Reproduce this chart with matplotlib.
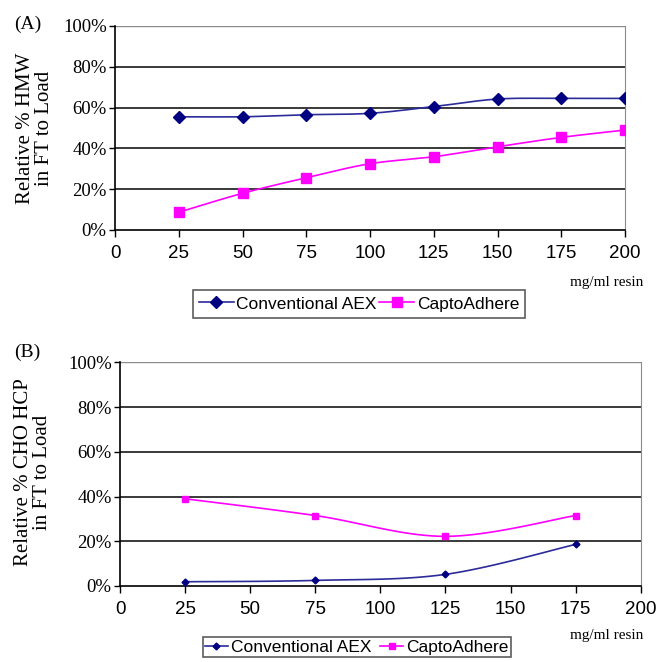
# -*- coding: utf-8 -*-
"""
Relative HMW and CHO HCP in flow-through vs. resin load
"""

import numpy as np
import matplotlib
matplotlib.use("Agg")
import matplotlib.pyplot as plt
from matplotlib.ticker import FuncFormatter

# Panel A data: relative % HMW in FT to load
load_a = [25, 50, 75, 100, 125, 150, 175, 200]
hmw_aex = [55.5, 55.5, 56.5, 57.2, 60.5, 64.2, 64.5, 64.5]
hmw_capto = [8.7, 18.0, 25.6, 32.5, 35.9, 40.8, 45.4, 49.0]

# Panel B data: relative % CHO HCP in FT to load
load_b = [25, 75, 125, 175]
hcp_aex = [1.9, 2.5, 5.2, 18.6]
hcp_capto = [39.0, 31.5, 22.2, 31.5]

series_names = ["Conventional AEX", "CaptoAdhere"]
x_ticks = [0, 25, 50, 75, 100, 125, 150, 175, 200]
y_ticks = [0, 20, 40, 60, 80, 100]

NAVY = "#000080"
NAVY_LINE = "#2b2b9a"
MAGENTA = "#ff00ff"
SERIF = "Liberation Serif"
SANS = "Liberation Sans"


def smooth(x, y, n=30):
    # Catmull-Rom curve through the points, like a spreadsheet "smoothed line"
    x = np.asarray(x, float)
    y = np.asarray(y, float)
    p = np.column_stack([x, y])
    p = np.vstack([p[0], p, p[-1]])
    out = []
    t = np.linspace(0, 1, n)[:, None]
    for i in range(1, len(p) - 2):
        p0, p1, p2, p3 = p[i - 1], p[i], p[i + 1], p[i + 2]
        c1 = p1 + (p2 - p0) / 6.0
        c2 = p2 - (p3 - p1) / 6.0
        seg = ((1 - t) ** 3) * p1 + 3 * ((1 - t) ** 2) * t * c1 \
            + 3 * (1 - t) * t ** 2 * c2 + t ** 3 * p2
        out.append(seg if i == 1 else seg[1:])
    seg = np.vstack(out)
    return seg[:, 0], seg[:, 1]


def style_axes(ax):
    ax.set_xlim(0, 200)
    ax.set_ylim(0, 100)
    ax.set_xticks(x_ticks)
    ax.set_yticks(y_ticks)
    ax.yaxis.set_major_formatter(FuncFormatter(lambda v, _: "%d%%" % v))
    for v in y_ticks[1:-1]:
        ax.axhline(v, color="#2a2a2a", lw=1.3, zorder=1)
    ax.axhline(100, color="#8c8c8c", lw=1.0, zorder=1)
    ax.spines["top"].set_visible(False)
    ax.spines["right"].set_color("#8c8c8c")
    ax.spines["left"].set_color("black")
    ax.spines["bottom"].set_color("black")
    ax.spines["left"].set_linewidth(1.2)
    ax.spines["bottom"].set_linewidth(1.2)
    ax.tick_params(axis="y", direction="out", length=4, width=1.0, pad=2)
    ax.tick_params(axis="x", direction="out", length=5, width=1.0, pad=6)
    for lab in ax.get_yticklabels():
        lab.set_fontfamily(SERIF)
        lab.set_fontsize(13.5)
    for lab in ax.get_xticklabels():
        lab.set_fontfamily(SANS)
        lab.set_fontsize(13.5)


fig = plt.figure(figsize=(6.6, 6.62), dpi=100)

# Panel A
ax1 = fig.add_axes([115 / 660, 1 - 230 / 662, 510 / 660, 204 / 662])
sx, sy = smooth(load_a, hmw_aex)
ax1.plot(sx, sy, color=NAVY_LINE, lw=1.2, zorder=3)
ax1.plot(load_a, hmw_aex, ls="none", marker="D", ms=6.5, color=NAVY, zorder=4)
sx, sy = smooth(load_a, hmw_capto)
ax1.plot(sx, sy, color=MAGENTA, lw=1.2, zorder=3)
ax1.plot(load_a, hmw_capto, ls="none", marker="s", ms=6.5, color=MAGENTA, zorder=4)
style_axes(ax1)

h1 = [plt.Line2D([], [], color=NAVY_LINE, lw=1.2, marker="D", ms=6.5,
                 mfc=NAVY, mec=NAVY),
      plt.Line2D([], [], color=MAGENTA, lw=1.2, marker="s", ms=6.5)]
leg1 = fig.legend(h1, series_names, loc="center", bbox_to_anchor=(359 / 660, 1 - 304 / 662),
                  ncol=2, frameon=True, fancybox=False, handlelength=2.0,
                  handletextpad=0.15, columnspacing=0.15, borderpad=0.35,
                  borderaxespad=0, prop={"family": SANS, "size": 12.5})
leg1.get_frame().set_edgecolor("#333333")
leg1.get_frame().set_linewidth(1.2)

# Panel B
ax2 = fig.add_axes([120 / 660, 1 - 586 / 662, 520.7 / 660, 223.7 / 662])
sx, sy = smooth(load_b, hcp_aex)
ax2.plot(sx, sy, color=NAVY_LINE, lw=1.2, zorder=3)
ax2.plot(load_b, hcp_aex, ls="none", marker="D", ms=3.5, color=NAVY, zorder=4)
sx, sy = smooth(load_b, hcp_capto)
ax2.plot(sx, sy, color=MAGENTA, lw=1.2, zorder=3)
ax2.plot(load_b, hcp_capto, ls="none", marker="s", ms=4.5, color=MAGENTA, zorder=4)
style_axes(ax2)

h2 = [plt.Line2D([], [], color=NAVY_LINE, lw=1.2, marker="D", ms=3.5,
                 mfc=NAVY, mec=NAVY),
      plt.Line2D([], [], color=MAGENTA, lw=1.2, marker="s", ms=4.5)]
leg2 = fig.legend(h2, series_names, loc="upper center",
                  bbox_to_anchor=(357 / 660, 1 - 637 / 662),
                  ncol=2, frameon=True, fancybox=False, handlelength=1.3,
                  handletextpad=0.2, columnspacing=0.5, borderpad=0.15,
                  borderaxespad=0, prop={"family": SANS, "size": 12.5})
leg2.get_frame().set_edgecolor("#333333")
leg2.get_frame().set_linewidth(1.2)

# Axis titles and panel tags
fig.text(35 / 660, 1 - 128 / 662, "Relative % HMW\nin FT to Load", rotation=90,
         ha="center", va="center", family=SERIF, fontsize=15, linespacing=0.95)
fig.text(33 / 660, 1 - 472 / 662, "Relative % CHO HCP\nin FT to Load", rotation=90,
         ha="center", va="center", family=SERIF, fontsize=15, linespacing=0.95)
fig.text(643 / 660, 1 - 283 / 662, "mg/ml resin", ha="right", va="center",
         family=SERIF, fontsize=11)
fig.text(643 / 660, 1 - 635 / 662, "mg/ml resin", ha="right", va="center",
         family=SERIF, fontsize=11)
fig.text(14 / 660, 1 - 24 / 662, "(A)", ha="left", va="center", family=SERIF, fontsize=14)
fig.text(14 / 660, 1 - 352 / 662, "(B)", ha="left", va="center", family=SERIF, fontsize=14)

fig.savefig("out.png", dpi=100)
